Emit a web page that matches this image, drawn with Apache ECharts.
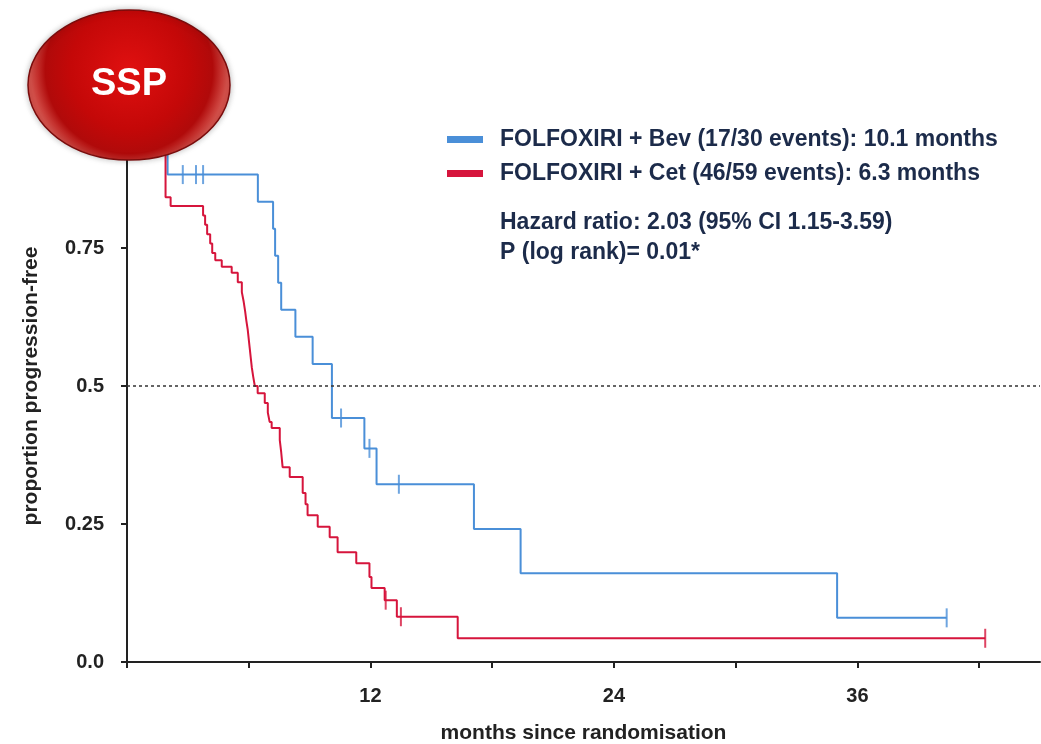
<!DOCTYPE html>
<html><head><meta charset="utf-8">
<script src="https://cdn.jsdelivr.net/npm/echarts@6/dist/echarts.min.js"></script>
<style>html,body{margin:0;padding:0;background:#fff}#c{width:1041px;height:744px}</style>
</head><body><div id="c"></div>
<script>
// ---- data (months, proportion progression-free after step) ----
const bevName = 'FOLFOXIRI + Bev (17/30 events): 10.1 months';
const cetName = 'FOLFOXIRI + Cet (46/59 events): 6.3 months';
const bevSteps = [[0,1],[2.0,0.883],[6.45,0.834],[7.2,0.785],[7.3,0.736],[7.45,0.687],[7.6,0.638],[8.3,0.589],[9.15,0.540],[10.1,0.442],[11.7,0.387],[12.3,0.322],[17.1,0.241],[19.4,0.161],[35.0,0.080],[40.4,0.080]];
const bevCensor = [[2.75,0.883],[3.4,0.883],[3.75,0.883],[10.55,0.442],[11.95,0.387],[13.4,0.322],[40.4,0.080]];
const cetSteps = [[0,1],[1.9,0.842],[2.15,0.826],[3.75,0.809],[3.85,0.792],[3.95,0.775],[4.1,0.758],[4.2,0.741],[4.35,0.728],[4.67,0.716],[5.16,0.705],[5.46,0.688],[5.66,0.670],[5.75,0.653],[5.82,0.636],[5.88,0.619],[5.95,0.602],[6.0,0.585],[6.05,0.568],[6.1,0.551],[6.15,0.534],[6.22,0.517],[6.3,0.500],[6.44,0.487],[6.79,0.469],[6.94,0.452],[7.03,0.435],[7.13,0.424],[7.53,0.402],[7.6,0.380],[7.67,0.353],[8.02,0.335],[8.66,0.306],[8.8,0.286],[8.9,0.266],[9.4,0.245],[9.99,0.226],[10.38,0.199],[11.3,0.179],[11.95,0.154],[12.05,0.134],[12.7,0.112],[13.3,0.082],[16.3,0.043],[42.3,0.043]];
const cetCensor = [[12.75,0.112],[13.5,0.082],[42.3,0.043]];
const xTicks = [0,6,12,18,24,30,36,42];
const xTickLabels = ['12','24','36'];
const yTickLabels = ['0.0','0.25','0.5','0.75'];
const refLine = 0.5;
const statLines = ['Hazard ratio: 2.03 (95% CI 1.15-3.59)','P (log rank)= 0.01*'];

const BLUE = '#4a8fd8', RED = '#d6153c';
const TXT = '#1c2b4a';
const chart = echarts.init(document.getElementById('c'));
const bold = {fontFamily:'Liberation Sans, Arial, sans-serif', fontWeight:'bold'};
chart.setOption({
  animation:false,
  grid:{left:127,right:1,top:110,bottom:82,containLabel:false,outerBoundsMode:'none'},
  legend:{
    orient:'vertical', left:442, top:123, itemWidth:36, itemHeight:7, itemGap:11,
    icon:'rect',
    textStyle:Object.assign({fontSize:23,color:TXT,padding:[0,0,0,12]},bold),
    data:[{name:bevName},{name:cetName}]
  },
  xAxis:{
    type:'value', min:0, max:45, interval:6,
    axisLine:{lineStyle:{color:'#222',width:2}},
    axisTick:{show:true,length:6,lineStyle:{color:'#222',width:2},customValues:xTicks},
    splitLine:{show:false},
    axisLabel:Object.assign({fontSize:20,color:'#222',margin:24,
      customValues:xTickLabels.map(Number),
      formatter:v=>xTickLabels.indexOf(String(v))>=0?String(v):''},bold),
    name:'months since randomisation', nameLocation:'middle', nameGap:61,
    nameTextStyle:Object.assign({fontSize:21,color:'#222'},bold)
  },
  yAxis:{
    type:'value', min:0, max:1, interval:0.25,
    axisLine:{show:true,lineStyle:{color:'#222',width:2}},
    axisTick:{show:true,length:6,lineStyle:{color:'#222',width:2}},
    splitLine:{show:false},
    axisLabel:Object.assign({fontSize:20,color:'#222',margin:23,
      formatter:v=>{const i=Math.round(v/0.25);return i<yTickLabels.length?yTickLabels[i]:'';}},bold),
    name:'proportion progression-free', nameLocation:'middle', nameGap:85, nameRotate:90,
    nameTextStyle:Object.assign({fontSize:21,color:'#222'},bold)
  },
  series:[
    {name:bevName,type:'line',step:'end',data:bevSteps,showSymbol:false,color:BLUE,
     lineStyle:{width:2,color:BLUE},z:3,
     markLine:{silent:true,symbol:'none',label:{show:false},
       lineStyle:{type:[3,3],color:'#333',width:1.5},data:[{yAxis:refLine}]}},
    {name:cetName,type:'line',step:'end',data:cetSteps,showSymbol:false,color:RED,
     lineStyle:{width:2,color:RED},z:4},
    {name:'bevCensor',type:'scatter',data:bevCensor,symbol:'rect',symbolSize:[2,19],
     itemStyle:{color:BLUE},z:5},
    {name:'cetCensor',type:'scatter',data:cetCensor,symbol:'rect',symbolSize:[2,19],
     itemStyle:{color:RED},z:5}
  ],
  graphic:[
    {type:'text',left:500,top:211,style:Object.assign({text:statLines[0],fontSize:23,fill:TXT},bold)},
    {type:'text',left:500,top:241,style:Object.assign({text:statLines[1],fontSize:23,fill:TXT},bold)},
    {type:'ellipse',z:100,shape:{cx:129,cy:85,rx:101,ry:75},
     style:{fill:new echarts.graphic.RadialGradient(0.5,0.4,0.65,[
        {offset:0,color:'#e01010'},{offset:0.6,color:'#c40808'},{offset:0.85,color:'#b00a0a'},{offset:1,color:'#d4504a'}]),
       stroke:'#7a0c0c',lineWidth:1.5,shadowBlur:6,shadowColor:'rgba(0,0,0,0.25)'}},
    {type:'text',z:101,x:129,y:85,style:Object.assign({text:'SSP',fontSize:38,fill:'#fff',align:'center',verticalAlign:'middle'},bold)}
  ]
});
</script></body></html>
